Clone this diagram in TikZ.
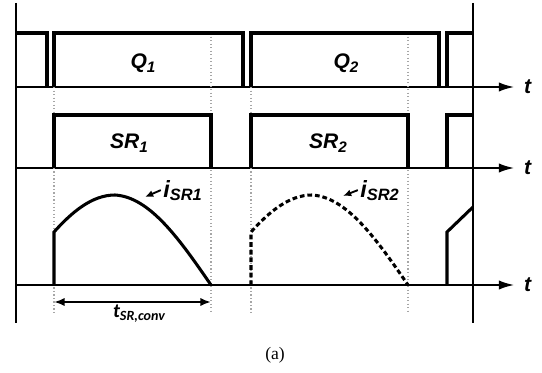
\documentclass[tikz,border=0pt]{standalone}
\usepackage{fontspec}
\setmainfont{Liberation Serif}
\setsansfont{Liberation Sans}
\newfontfamily\calibfont{Carlito}
\usepackage{tikz}
\usetikzlibrary{positioning,arrows.meta}
\newcommand{\lowsub}[2][13]{\raisebox{-2.6pt}{\fontsize{#1}{#1}\selectfont #2}}

\begin{document}
\begin{tikzpicture}[x=0.03cm,y=-0.03cm,
  wave/.style={line width=2.6pt, line join=miter},
  axis/.style={line width=1.4pt},
  taxis/.style={axis,-{Latex[length=13pt,width=8pt]}},
  guide/.style={gray!70, line width=1pt, dotted},
  lbl/.style={font=\sffamily\bfseries\itshape\fontsize{18}{18}\selectfont, inner sep=1pt}]
\useasboundingbox (0,0) rectangle (542,373);

% frame lines
\draw[axis] (15.7,3) -- (15.7,323);
\draw[axis] (473,3) -- (473,323);

% time axes
\draw[taxis] (15.7,87) -- (514,87) node[lbl, right=7pt] (ta) {t};
\draw[taxis] (15.7,168) -- (514,168) node[lbl, right=7pt] (tb) {t};
\draw[taxis] (15.7,285) -- (514,285) node[lbl, right=7pt] (tc) {t};

% dotted guides
\draw[guide] (54,87) -- (54,313);
\draw[guide] (211,33) -- (211,313);
\draw[guide] (251,87) -- (251,313);
\draw[guide] (408,33) -- (408,313);

% primary gates
\draw[wave] (15.7,33) -- (47,33) -- (47,87);
\draw[wave] (54,87) -- (54,33) -- (243,33) -- (243,87);
\draw[wave] (251,87) -- (251,33) -- (439,33) -- (439,87);
\draw[wave] (447,87) -- (447,33) -- (473,33);

% SR gates
\draw[wave] (54,168) -- (54,115) -- (211,115) -- (211,168);
\draw[wave] (251,168) -- (251,115) -- (408,115) -- (408,168);
\draw[wave] (447,168) -- (447,115) -- (473,115);

% SR currents
\draw[wave] (54,285) -- (54,232) .. controls (72,212) and (92,195) .. (115,195)
  .. controls (150,197) and (180,240) .. (211,285);
\draw[wave, dash pattern=on 4pt off 2.5pt, shift={(197,0)}] (54,285) -- (54,232)
  .. controls (72,212) and (92,195) .. (115,195)
  .. controls (150,197) and (180,240) .. (211,285);
\draw[wave] (447,285) -- (447,232) -- (473,207);

% labels
\node[lbl, anchor=base] (qone) at (143,69) {Q\lowsub{1}};
\node[lbl, anchor=base] (qtwo) at (346,69) {Q\lowsub{2}};
\node[lbl, anchor=base] (srone) at (129,149) {SR\lowsub{1}};
\node[lbl, anchor=base] (srtwo) at (328,149) {SR\lowsub{2}};
\node[lbl, anchor=base west] (isrone) at (162,197) {{\fontsize{20}{20}\selectfont i}\lowsub[14]{SR1}};
\node[lbl, anchor=base west] (isrtwo) at (359,197) {{\fontsize{20}{20}\selectfont i}\lowsub[14]{SR2}};
\coordinate (isronetip) at (145,197);
\coordinate (isrtwotip) at (343,196);
\draw[line width=1.6pt, -{Latex[length=7pt,width=6pt]}] ([xshift=-1pt]isrone.west) -- (isronetip);
\draw[line width=1.6pt, -{Latex[length=7pt,width=6pt]}] ([xshift=-1pt]isrtwo.west) -- (isrtwotip);

% conduction time
\coordinate (convL) at (54,302);
\coordinate (convR) at (211,302);
\draw[line width=1.8pt, {Latex[length=9pt,width=7pt]}-{Latex[length=9pt,width=7pt]}] (convL) -- (convR);
\node[inner sep=1pt, anchor=base, font=\calibfont\bfseries\itshape\fontsize{17}{17}\selectfont] (tconv) at (139,317)
  {t\raisebox{-3pt}{\fontsize{12}{12}\selectfont SR,conv}};

\node[inner sep=0pt, font=\fontsize{15}{15}\selectfont] (caption) at (275,355) {(a)};
\end{tikzpicture}
\end{document}
